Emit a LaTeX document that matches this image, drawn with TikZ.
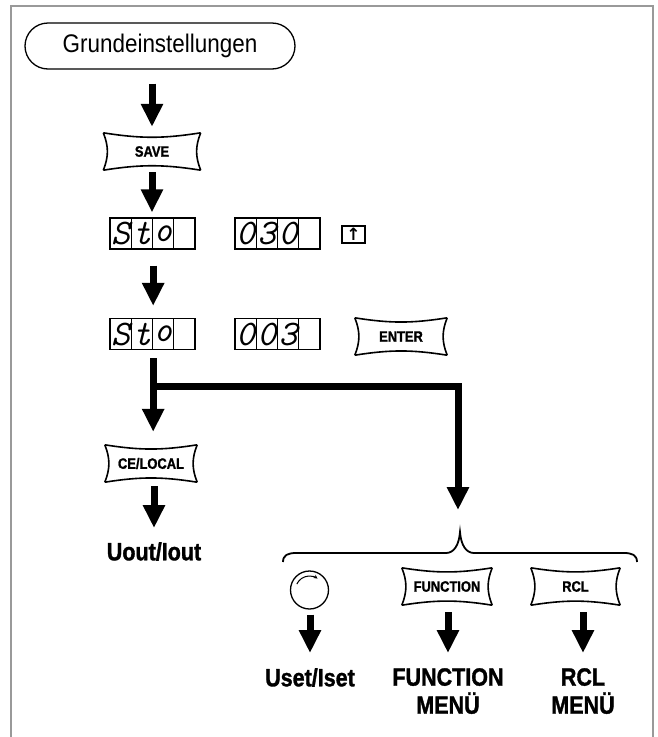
\documentclass[tikz,border=0pt]{standalone}
\usepackage{fontspec}
\setmainfont[FakeStretch=0.88]{Liberation Sans}
\newfontfamily\heavyfont[FakeStretch=0.86, FakeBold=1.3]{Liberation Sans Bold}
\newfontfamily\symbfont{DejaVu Sans}
\usetikzlibrary{arrows.meta}

\begin{document}
\begin{tikzpicture}[x=1pt, y=-1pt,
    hrim/.style={line width=1.6pt, bend right=9},
    vrim/.style={line width=1.6pt, bend right=22},
    key/.style={font=\heavyfont\fontsize{15}{15}\selectfont, minimum width=92pt, minimum height=37pt, inner sep=0pt,
        append after command={
            (\tikzlastnode.north west) edge[hrim] (\tikzlastnode.north east)
            (\tikzlastnode.north east) edge[vrim] (\tikzlastnode.south east)
            (\tikzlastnode.south east) edge[hrim] (\tikzlastnode.south west)
            (\tikzlastnode.south west) edge[vrim] (\tikzlastnode.north west)}},
    cell/.style={draw, line width=1.3pt, minimum width=21.25pt, minimum height=31pt, inner sep=0pt,
        font=\fontsize{36}{36}\selectfont\ttfamily\itshape},
    arr/.style={line width=7pt, -{Triangle[width=21pt,length=23pt]}},
    lbl/.style={font=\heavyfont\fontsize{25}{28}\selectfont, align=center, inner sep=0pt, anchor=north}
]
    \useasboundingbox (0,0) rectangle (658,737);

    % frame
    \draw[gray!80, line width=1.5pt] (11,737) -- (11,6) -- (653,6) -- (653,737);

    % start
    \node[draw, line width=1.3pt, rounded corners=23pt, minimum width=270pt, minimum height=46pt,
        font=\fontsize{25.5}{25.5}\selectfont] (title) at (160,46) {Grundeinstellungen};

    % keys
    \node[key, minimum width=97pt] (save) at (152,151.5) {SAVE};
    \node[key] (enter) at (401,336.5) {ENTER};
    \node[key] (ce) at (151,463.5) {CE/LOCAL};
    \node[key, minimum width=90pt] (func) at (447,586.5) {FUNCTION};
    \node[key, minimum width=89pt] (rcl) at (575.5,586.5) {RCL};

    % display, first row
    \node[cell] (sa1) at (120.6,233.5) {S};
    \node[cell] (sa2) at (141.9,233.5) {t};
    \node[cell] (sa3) at (163.1,233.5) {o};
    \node[cell] (sa4) at (184.4,233.5) {};
    \node[cell] (na1) at (245.6,233.5) {0};
    \node[cell] (na2) at (266.9,233.5) {3};
    \node[cell] (na3) at (288.1,233.5) {0};
    \node[cell] (na4) at (309.4,233.5) {};
    \node[draw, line width=1.3pt, minimum width=23pt, minimum height=17pt, inner sep=0pt,
        font=\symbfont\bfseries\fontsize{17}{17}\selectfont] (upkey) at (353.5,234.5) {↑};

    % display, second row
    \node[cell] (sb1) at (120.6,334) {S};
    \node[cell] (sb2) at (141.9,334) {t};
    \node[cell] (sb3) at (163.1,334) {o};
    \node[cell] (sb4) at (184.4,334) {};
    \node[cell] (nb1) at (245.6,334) {0};
    \node[cell] (nb2) at (266.9,334) {0};
    \node[cell] (nb3) at (288.1,334) {3};
    \node[cell] (nb4) at (309.4,334) {};

    % knob
    \node[circle, draw, line width=1.3pt, minimum size=38pt, inner sep=0pt] (knob) at (309.5,590) {};
    \draw[line width=1pt, -{Stealth[length=4pt, width=4pt]}] ([shift={(-12.7,-5.9)}]knob.center)
        arc[start angle=-155, end angle=-55, radius=14];

    % labels
    \node[lbl] (uout) at (154,542) {Uout/Iout};
    \node[lbl] (uset) at (310,668) {Uset/Iset};
    \node[lbl] (fmenu) at (448,668) {FUNCTION\\MENÜ};
    \node[lbl] (rmenu) at (583,668) {RCL\\MENÜ};

    % arrows
    \draw[arr, shorten <=14pt, shorten >=6pt] (save.north |- title.south) -- (save.north);
    \draw[arr, shorten <=2pt, shorten >=5pt] (save.south) -- (save.south |- sa2.north east);
    \draw[arr, shorten <=16pt, shorten >=12pt] (sa2.south east) -- (sb2.north east);
    \draw[arr, shorten <=8pt, shorten >=13pt] (sb2.south east) -- (ce.north -| sb2.south east);
    \draw[arr, shorten <=4pt, shorten >=14pt] (ce.south -| uout) -- (uout.north);

    % branch
    \coordinate (split) at (152,386);
    \coordinate (turn) at (458,386);
    \coordinate (peak) at (460,532);
    \draw[arr, shorten >=22pt] (split) -- (turn) -- (turn |- peak);

    % brace
    \draw[line width=1.8pt] (283,562) .. controls (283,555) and (288,553) .. (296,553) -- (446,553)
        .. controls (454,553) and (459,545) .. (peak) .. controls (461,545) and (466,553) .. (474,553)
        -- (624,553) .. controls (632,553) and (637,555) .. (637,562);

    \draw[arr, shorten <=5pt, shorten >=15pt] (knob.south -| uset) -- (uset.north);
    \draw[arr, shorten <=7pt, shorten >=15pt] (func.south -| fmenu) -- (fmenu.north);
    \draw[arr, shorten <=7pt, shorten >=15pt] (rcl.south -| rmenu) -- (rmenu.north);

\end{tikzpicture}
\end{document}
